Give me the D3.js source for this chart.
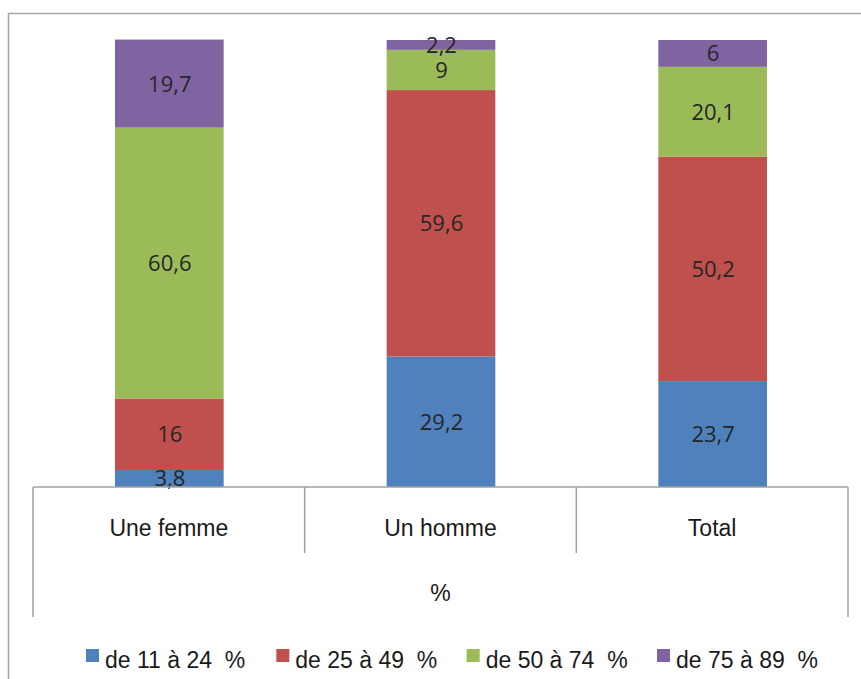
<!DOCTYPE html>
<html>
<head>
<meta charset="utf-8">
<script src="https://cdn.jsdelivr.net/npm/d3@7"></script>
<style>
  html, body { margin: 0; padding: 0; background: #fff; }
  svg { display: block; }
</style>
</head>
<body>
<script>
// chart data
var categories = ["Une femme", "Un homme", "Total"];
var seriesNames = ["de 11 à 24  %", "de 25 à 49  %", "de 50 à 74  %", "de 75 à 89  %"];
var seriesKeys = ["s1", "s2", "s3", "s4"];
var s1 = [3.8, 29.2, 23.7];
var s2 = [16, 59.6, 50.2];
var s3 = [60.6, 9, 20.1];
var s4 = [19.7, 2.2, 6];
var labels = [["3,8", "16", "60,6", "19,7"], ["29,2", "59,6", "9", "2,2"], ["23,7", "50,2", "20,1", "6"]];
var axisTitle = "%";
var colors = ["#4F81BD", "#C0504D", "#9BBB59", "#8064A2"];

var width = 861, height = 679;
var svg = d3.select("body").append("svg")
  .attr("width", width).attr("height", height);

// outer frame (only top and left visible)
svg.append("path")
  .attr("d", "M8.5," + height + "V13.5H" + width)
  .attr("fill", "none").attr("stroke", "#A6A6A6").attr("stroke-width", 1.5);

var rows = categories.map(function(c, i) {
  return {cat: c, s1: s1[i], s2: s2[i], s3: s3[i], s4: s4[i]};
});

var x = d3.scaleBand().domain(categories).range([33, 848]).padding(0);
var y = d3.scaleLinear().domain([0, 100]).range([487, 40]);

var stacked = d3.stack().keys(seriesKeys)(rows);
var barW = x.bandwidth() * 0.4;

var g = svg.append("g");
stacked.forEach(function(layer, li) {
  g.selectAll(".bar" + li)
    .data(layer)
    .enter().append("rect")
    .attr("x", function(d) { return x(d.data.cat) + (x.bandwidth() - barW) / 2 + 0.5; })
    .attr("y", function(d) { return y(d[1]); })
    .attr("width", barW)
    .attr("height", function(d) { return y(d[0]) - y(d[1]); })
    .attr("fill", colors[li]);
});

// data labels
stacked.forEach(function(layer, li) {
  g.selectAll(".lab" + li)
    .data(layer)
    .enter().append("text")
    .attr("x", function(d) { return x(d.data.cat) + x.bandwidth() / 2 + 1; })
    .attr("y", function(d) { return (y(d[0]) + y(d[1])) / 2; })
    .attr("dy", "0.36em")
    .attr("text-anchor", "middle")
    .style("font", "22px 'Open Sans'")
    .style("fill", "#262626")
    .text(function(d, i) { return labels[i][li]; });
});

// multi-level category axis
var axisCol = "#A0A0A0";
var base = y(0);
svg.append("line")
  .attr("x1", x.range()[0]).attr("x2", x.range()[1])
  .attr("y1", base).attr("y2", base)
  .attr("stroke", axisCol).attr("stroke-width", 1.5);

var bounds = categories.map(function(c) { return x(c); }).concat([x.range()[1]]);
svg.selectAll(".sep")
  .data(bounds)
  .enter().append("line")
  .attr("x1", function(d) { return d; }).attr("x2", function(d) { return d; })
  .attr("y1", base)
  .attr("y2", function(d, i) { return (i == 0 || i == bounds.length - 1) ? 617 : 553; })
  .attr("stroke", axisCol).attr("stroke-width", 1.5);

var txtFont = "23px 'Liberation Sans', Arial, sans-serif";
svg.selectAll(".catlab")
  .data(categories)
  .enter().append("text")
  .attr("x", function(d) { return x(d) + x.bandwidth() / 2; })
  .attr("y", 536)
  .attr("text-anchor", "middle")
  .style("font", txtFont)
  .style("fill", "#1a1a1a")
  .text(function(d) { return d; });

svg.append("text")
  .attr("x", (x.range()[0] + x.range()[1]) / 2)
  .attr("y", 601)
  .attr("text-anchor", "middle")
  .style("font", txtFont)
  .style("fill", "#1a1a1a")
  .text(axisTitle);

// legend
var lx = d3.scaleLinear().domain([0, 3]).range([86, 657]);
var leg = svg.selectAll(".leg")
  .data(seriesNames)
  .enter().append("g")
  .attr("transform", function(d, i) { return "translate(" + lx(i) + ",649)"; });
leg.append("rect")
  .attr("width", 13).attr("height", 13)
  .attr("fill", function(d, i) { return colors[i]; });
leg.append("text")
  .attr("x", 19).attr("y", 19)
  .attr("xml:space", "preserve")
  .style("white-space", "pre")
  .style("font", txtFont)
  .style("fill", "#1a1a1a")
  .text(function(d) { return d; });
</script>
</body>
</html>
